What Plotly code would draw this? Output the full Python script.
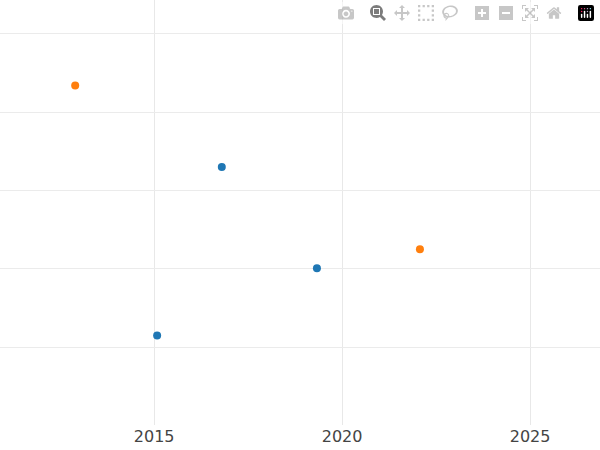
import plotly.graph_objects as go

blue_x = [2016.8, 2019.33, 2015.08]
blue_y = [1.30, 0.01, -0.85]
orange_x = [2012.9, 2022.07]
orange_y = [2.34, 0.25]

fig = go.Figure()
fig.add_trace(go.Scatter(x=blue_x, y=blue_y, mode="markers", marker=dict(color="#1f77b4", size=8)))
fig.add_trace(go.Scatter(x=orange_x, y=orange_y, mode="markers", marker=dict(color="#ff7f0e", size=8)))
fig.update_layout(
    width=600, height=450, showlegend=False,
    paper_bgcolor="white", plot_bgcolor="white",
    margin=dict(l=0, r=0, t=0, b=25),
    font=dict(family="DejaVu Sans", size=16, color="#444"),
    xaxis=dict(range=[2010.9, 2026.86], tickvals=[2015, 2020, 2025], gridcolor="#e8e8e8",
               zeroline=False, showline=False, ticks=""),
    yaxis=dict(range=[-1.99, 3.43], dtick=1, tick0=0, gridcolor="#ebebeb", showticklabels=False,
               zeroline=False, showline=False),
)
fig.write_html("out.html", post_script="document.body.style.margin='0';document.body.style.overflow='hidden';")
